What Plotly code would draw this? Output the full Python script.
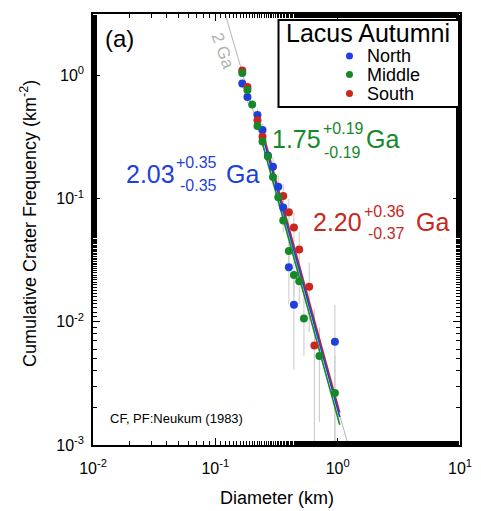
import plotly.graph_objects as go

# ---------------- data ----------------
north_D = [0.166, 0.183, 0.221, 0.243, 0.269, 0.296, 0.327, 0.359, 0.399, 0.439, 0.949]
north_N = [0.862, 0.669, 0.478, 0.361, 0.224, 0.182, 0.125, 0.0848, 0.0277, 0.0138, 0.0069]
north_hi = [0.939, 0.737, 0.535, 0.411, 0.263, 0.217, 0.154, 0.109, 0.0415, 0.026, 0.0138]
north_lo = [0.785, 0.601, 0.421, 0.311, 0.185, 0.147, 0.096, 0.0606, 0.0139, 0.0041, 0.0001]

middle_D = [0.166, 0.183, 0.200, 0.221, 0.243, 0.269, 0.296, 0.327, 0.359, 0.399, 0.439, 0.485, 0.530, 0.709, 0.949]
middle_N = [1.049, 0.763, 0.582, 0.389, 0.292, 0.220, 0.150, 0.1026, 0.0665, 0.0376, 0.0240, 0.0214, 0.01063, 0.00527, 0.00264]
middle_hi = [1.102, 0.808, 0.621, 0.421, 0.320, 0.244, 0.170, 0.119, 0.0798, 0.0476, 0.0320, 0.0289, 0.0159, 0.0090, 0.00528]
middle_lo = [0.996, 0.718, 0.543, 0.357, 0.264, 0.196, 0.130, 0.0861, 0.0533, 0.0276, 0.0160, 0.0139, 0.0053, 0.00154, 0.0001]

south_D = [0.166, 0.183, 0.221, 0.243, 0.359, 0.399, 0.439, 0.485, 0.585, 0.645]
south_N = [1.099, 0.807, 0.433, 0.318, 0.1051, 0.0775, 0.0583, 0.0386, 0.0193, 0.00642]
south_hi = [1.183, 0.879, 0.486, 0.363, 0.131, 0.0998, 0.0776, 0.0543, 0.0304, 0.0128]
south_lo = [1.015, 0.735, 0.380, 0.273, 0.079, 0.0552, 0.039, 0.0229, 0.0082, 0.0001]

fit_D = [0.24, 1.04]
north_fit_N = [0.34, 0.00169]
middle_fit_N = [0.2926, 0.00146]
south_fit_N = [0.368, 0.00184]

iso_D = [0.1115, 0.164, 1.321]
iso_N = [4.11, 1.109, 0.000754]

x_tickvals = [0.01, 0.1, 1, 10]
x_ticktext = ["10<sup>-2</sup>", "10<sup>-1</sup>", "10<sup>0</sup>", "10<sup>1</sup>"]
y_tickvals = [0.001, 0.01, 0.1, 1]
y_ticktext = ["10<sup>-3</sup>", "10<sup>-2</sup>", "10<sup>-1</sup>", "10<sup>0</sup>"]

BLUE = "#1f3fdc"
GREEN = "#17882a"
RED = "#c8281c"
FONT = "Liberation Sans, Arial, Helvetica, sans-serif"

# ---------------- geometry (pixels) ----------------
W, H = 481, 511
L, R, T, B = 93, 460, 14, 445
PW, PH = R - L, B - T


def px(x):
    return (x - L) / PW


def py(y):
    return (B - y) / PH


fig = go.Figure()

# 2 Ga isochron
fig.add_trace(go.Scatter(x=iso_D, y=iso_N, mode="lines",
                         line=dict(color="#b4b4b4", width=1), hoverinfo="skip"))


def err(N, hi, lo):
    return dict(type="data", symmetric=False,
                array=[h - n for h, n in zip(hi, N)],
                arrayminus=[n - l for n, l in zip(N, lo)],
                color="#c8c8c8", thickness=1, width=0)


# error bars (under everything else)
for D, N, hi, lo in [(north_D, north_N, north_hi, north_lo),
                     (south_D, south_N, south_hi, south_lo),
                     (middle_D, middle_N, middle_hi, middle_lo)]:
    fig.add_trace(go.Scatter(x=D, y=N, mode="markers", marker=dict(size=1, opacity=0),
                             error_y=err(N, hi, lo), hoverinfo="skip"))

# fit lines
fig.add_trace(go.Scatter(x=fit_D, y=south_fit_N, mode="lines", line=dict(color=RED, width=1.6)))
fig.add_trace(go.Scatter(x=fit_D, y=north_fit_N, mode="lines", line=dict(color=BLUE, width=1.6)))
fig.add_trace(go.Scatter(x=fit_D, y=middle_fit_N, mode="lines", line=dict(color=GREEN, width=1.6)))

# points
fig.add_trace(go.Scatter(x=north_D, y=north_N, mode="markers", marker=dict(color=BLUE, size=8)))
fig.add_trace(go.Scatter(x=south_D, y=south_N, mode="markers", marker=dict(color=RED, size=8)))
fig.add_trace(go.Scatter(x=middle_D, y=middle_N, mode="markers", marker=dict(color=GREEN, size=8)))

axis_common = dict(type="log", showgrid=False, zeroline=False, showline=True, automargin=False,
                   linecolor="black", linewidth=1.5, mirror="allticks",
                   ticks="inside", ticklen=7, tickwidth=1, tickcolor="black",
                   tickfont=dict(family=FONT, size=16, color="black"),
                   minor=dict(ticks="inside", ticklen=4, tickwidth=1, tickcolor="black", showgrid=False))

fig.update_xaxes(range=[-2, 1], tickvals=x_tickvals, ticktext=x_ticktext, ticklabelstandoff=8, **axis_common)
fig.update_yaxes(range=[-3, 0.5], tickvals=y_tickvals, ticktext=y_ticktext, ticklabelstandoff=4, **axis_common)

ann = []


def text(x, y, s, size, color="black", anchor="left", angle=0):
    ann.append(dict(x=px(x), y=py(y), xref="paper", yref="paper", text=s, showarrow=False,
                    xanchor=anchor, yanchor="middle", textangle=angle,
                    font=dict(family=FONT, size=size, color=color)))


text(103, 38, "(a)", 24)
text(367.5, 33, "Lacus Autumni", 25, anchor="center")
text(365, 56, "North", 18)
text(365, 74.5, "Middle", 18)
text(365, 93.5, "South", 18)

text(124, 174, "2.03", 25, BLUE)
text(174, 162, "+0.35", 16, BLUE)
text(178, 185, "-0.35", 16, BLUE)
text(224, 174, "Ga", 25, BLUE)

text(270, 139, "1.75", 25, GREEN)
text(321, 128, "+0.19", 16, GREEN)
text(322, 152, "-0.19", 16, GREEN)
text(364, 139, "Ga", 25, GREEN)

text(311, 222.5, "2.20", 25, RED)
text(362, 211.5, "+0.36", 16, RED)
text(366, 234, "-0.37", 16, RED)
text(414, 222.5, "Ga", 25, RED)

text(108, 418, "CF, PF:Neukum (1983)", 13)
text(223, 50, "2 Ga", 17, "#b0b0b0", anchor="center", angle=70)

text(277, 498, "Diameter (km)", 18, anchor="center")
text(28, 224, "Cumulative Crater Frequency (km<sup>-2</sup>)", 18, anchor="center", angle=-90)

shapes = [dict(type="rect", xref="paper", yref="paper",
               x0=px(278.5), x1=px(459), y0=py(107), y1=py(20),
               line=dict(color="black", width=2), fillcolor="white", layer="above")]
for yy, c in [(56, BLUE), (74.5, GREEN), (93.5, RED)]:
    shapes.append(dict(type="circle", xref="paper", yref="paper",
                       xsizemode="pixel", ysizemode="pixel",
                       xanchor=px(349.5), yanchor=py(yy),
                       x0=-3.5, x1=3.5, y0=-3.5, y1=3.5,
                       fillcolor=c, line=dict(color=c, width=0), layer="above"))

fig.update_layout(template="none", width=W, height=H, margin=dict(l=L, r=W - R, t=T, b=H - B),
                  paper_bgcolor="white", plot_bgcolor="white", showlegend=False,
                  annotations=ann, shapes=shapes, font=dict(family=FONT, color="black"))

fig.write_html("out.html", config={"displayModeBar": False},
               post_script="document.body.style.margin='0';document.body.style.overflow='hidden';")
